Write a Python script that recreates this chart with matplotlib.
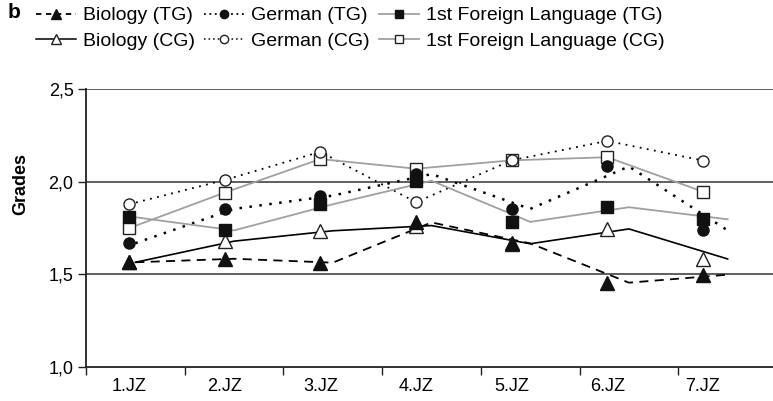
import numpy as np
import matplotlib
matplotlib.use("Agg")
import matplotlib.pyplot as plt
from matplotlib.lines import Line2D

plt.rcParams['font.family'] = ['Liberation Sans Narrow', 'Liberation Sans', 'DejaVu Sans']

years = ['1.JZ', '2.JZ', '3.JZ', '4.JZ', '5.JZ', '6.JZ', '7.JZ']

bio_tg = [1.565, 1.584, 1.563, 1.78, 1.667, 1.455, 1.498]
bio_cg = [1.565, 1.679, 1.735, 1.763, 1.665, 1.745, 1.583]
ger_tg = [1.668, 1.853, 1.925, 2.041, 1.853, 2.082, 1.737]
ger_cg = [1.878, 2.009, 2.161, 1.889, 2.115, 2.220, 2.114]
fl_tg = [1.808, 1.737, 1.878, 2.005, 1.783, 1.862, 1.797]
fl_cg = [1.749, 1.941, 2.122, 2.070, 2.115, 2.132, 1.946]

# in the original print the markers sit a bit off the line vertices
n = len(years)
x_line = np.arange(n) + 0.5
x_mark = 0.436 + np.arange(n) * 0.969

fig = plt.figure(figsize=(7.73, 4.01), dpi=100)
ax = fig.add_axes([86 / 773, 34 / 401, 691 / 773, 278 / 401])

gray = '#a0a0a0'
# lines
ax.plot(x_line, bio_tg, color='black', lw=1.3, linestyle=(0, (5, 3.5)), zorder=2)
ax.plot(x_line, bio_cg, color='black', lw=1.2, zorder=2)
ax.plot(x_line, ger_tg, color='black', lw=1.8, linestyle=(0, (1, 3)), zorder=2)
ax.plot(x_mark, ger_cg, color='black', lw=1.3, linestyle=(0, (1, 3)), zorder=2)
ax.plot(x_line, fl_tg, color=gray, lw=1.3, zorder=2)
ax.plot(x_mark, fl_cg, color=gray, lw=1.3, zorder=2)

# markers
ax.plot(x_mark, fl_cg, 's', ms=8, mfc='white', mec='#222222', mew=1.0, ls='none', zorder=3)
ax.plot(x_mark, ger_cg, 'o', ms=8, mfc='white', mec='#222222', mew=1.0, ls='none', zorder=3)
ax.plot(x_mark, bio_cg, '^', ms=9.5, mfc='white', mec='#222222', mew=1.0, ls='none', zorder=3)
ax.plot(x_mark, fl_tg, 's', ms=8, color='#111111', ls='none', zorder=4)
ax.plot(x_mark, ger_tg, 'o', ms=8, color='#111111', ls='none', zorder=4)
ax.plot(x_mark, bio_tg, '^', ms=10, color='#111111', ls='none', zorder=4)

ax.set_xlim(0, 7)
ax.set_ylim(1.0, 2.5)
ax.set_yticks([1.0, 1.5, 2.0, 2.5])
ax.set_yticklabels(['1,0', '1,5', '2,0', '2,5'])
ax.set_xticks(np.arange(0, 8))
ax.set_xticklabels([])
ax.set_xticks(x_mark, minor=True)
ax.set_xticklabels(years, minor=True)
ax.tick_params(axis='x', which='major', length=6, width=1, color='#222222')
ax.tick_params(axis='x', which='minor', length=0, pad=8, labelsize=13)
ax.tick_params(axis='y', length=6, width=1, color='#222222', labelsize=13, pad=3)

for y in [1.5, 2.0, 2.5]:
    ax.axhline(y, color='#333333', lw=1.1, zorder=1)

for side in ['top', 'right']:
    ax.spines[side].set_visible(False)
ax.spines['left'].set_linewidth(1.3)
ax.spines['bottom'].set_linewidth(1.3)
ax.spines['left'].set_color('#222222')
ax.spines['bottom'].set_color('#222222')

fig.text(21 / 773, 1 - 184 / 401, 'Grades', rotation=90, ha='center', va='center',
         fontsize=13, fontweight='bold')
fig.text(14 / 773, 1 - 13 / 401, 'b', ha='center', va='center', fontsize=15, fontweight='bold')

handles = [
    Line2D([], [], color='black', lw=1.3, linestyle=(0, (3, 2.5)), marker='^', ms=7, mfc='#111111', mec='#111111'),
    Line2D([], [], color='black', lw=1.1, marker='^', ms=7, mfc='white', mec='#222222'),
    Line2D([], [], color='black', lw=1.3, linestyle=(0, (1, 2)), marker='o', ms=6, mfc='#111111', mec='#111111'),
    Line2D([], [], color='black', lw=1.1, linestyle=(0, (1, 2)), marker='o', ms=6, mfc='white', mec='#222222'),
    Line2D([], [], color=gray, lw=1.3, marker='s', ms=6, mfc='#111111', mec='#111111'),
    Line2D([], [], color=gray, lw=1.3, marker='s', ms=6, mfc='white', mec='#222222'),
]
labels = ['Biology (TG)', 'Biology (CG)', 'German (TG)', 'German (CG)',
          '1st Foreign Language (TG)', '1st Foreign Language (CG)']
fig.legend(handles, labels, ncol=3, loc='upper left', bbox_to_anchor=(32 / 773, 1 - 3 / 401),
           frameon=False, fontsize=14, handlelength=2.05, handletextpad=0.35,
           columnspacing=0.5, labelspacing=0.42, borderpad=0.2, borderaxespad=0.0)

fig.savefig('out.png', dpi=100)
